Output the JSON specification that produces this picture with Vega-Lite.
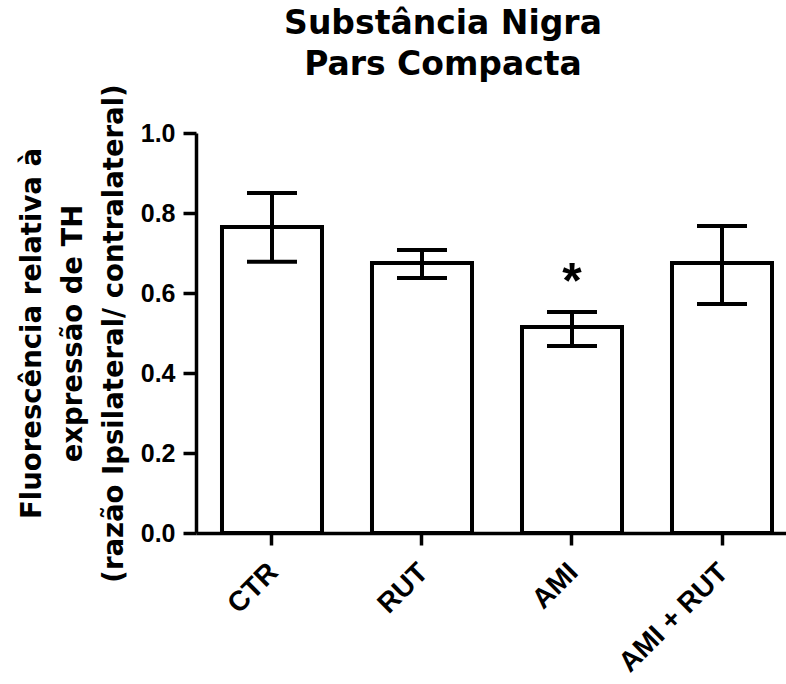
{
  "$schema": "https://vega.github.io/schema/vega-lite/v6.json",
  "width": 590,
  "height": 400,
  "autosize": {"type": "none"},
  "padding": {"left": 196, "top": 133, "right": 0, "bottom": 151},
  "background": "white",
  "view": {"stroke": null},
  "title": {
    "text": ["Substância Nigra", "Pars Compacta"],
    "font": "DejaVu Sans",
    "fontSize": 33,
    "fontWeight": "bold",
    "color": "black",
    "lineHeight": 41,
    "anchor": "middle",
    "dx": -48,
    "offset": 2
  },
  "data": {
    "values": [
      {"group": "CTR", "mean": 0.765, "lo": 0.678, "hi": 0.85, "sig": ""},
      {"group": "RUT", "mean": 0.675, "lo": 0.6375, "hi": 0.7075, "sig": ""},
      {"group": "AMI", "mean": 0.515, "lo": 0.4675, "hi": 0.5525, "sig": "*"},
      {"group": "AMI + RUT", "mean": 0.675, "lo": 0.5725, "hi": 0.7675, "sig": ""}
    ]
  },
  "encoding": {
    "x": {
      "field": "group",
      "type": "nominal",
      "sort": null,
      "scale": {"paddingInner": 0.3333, "paddingOuter": 0.1333, "align": 0.65},
      "axis": {
        "title": null,
        "labelAngle": -45,
        "labelFont": "Liberation Sans",
        "labelFontWeight": "bold",
        "labelFontSize": 28,
        "labelColor": "black",
        "labelPadding": 13,
        "labelOffset": -8,
        "tickSize": 12,
        "tickWidth": 3.5,
        "tickColor": "black",
        "domainWidth": 3.5,
        "domainColor": "black",
        "grid": false
      }
    }
  },
  "layer": [
    {
      "mark": {"type": "bar", "fill": "white", "stroke": "black", "strokeWidth": 4},
      "encoding": {
        "y": {
          "field": "mean",
          "type": "quantitative",
          "scale": {"domain": [0, 1], "nice": false},
          "axis": {
            "values": [0, 0.2, 0.4, 0.6, 0.8, 1.0],
            "format": ".1f",
            "grid": false,
            "title": ["Fluorescência relativa à", "expressão de TH", "(razão Ipsilateral/ contralateral)"],
            "titleFont": "DejaVu Sans",
            "titleFontWeight": "bold",
            "titleFontSize": 27.5,
            "titleLineHeight": 41,
            "titleColor": "black",
            "titlePadding": 12,
            "labelFont": "Liberation Sans",
            "labelFontWeight": "bold",
            "labelFontSize": 25,
            "labelColor": "black",
            "labelPadding": 8,
            "tickSize": 13,
            "tickWidth": 3.5,
            "tickColor": "black",
            "domainWidth": 3.5,
            "domainColor": "black"
          }
        }
      }
    },
    {
      "mark": {"type": "rule", "stroke": "black", "strokeWidth": 4},
      "encoding": {
        "y": {"field": "lo", "type": "quantitative"},
        "y2": {"field": "hi"}
      }
    },
    {
      "mark": {"type": "tick", "color": "black", "size": 50, "thickness": 4, "opacity": 1},
      "encoding": {"y": {"field": "lo", "type": "quantitative"}}
    },
    {
      "mark": {"type": "tick", "color": "black", "size": 50, "thickness": 4, "opacity": 1},
      "encoding": {"y": {"field": "hi", "type": "quantitative"}}
    },
    {
      "mark": {"type": "text", "font": "Liberation Sans", "fontWeight": "bold", "fontSize": 50, "baseline": "alphabetic", "dy": -14, "color": "black"},
      "encoding": {
        "y": {"field": "hi", "type": "quantitative"},
        "text": {"field": "sig"}
      }
    }
  ]
}
